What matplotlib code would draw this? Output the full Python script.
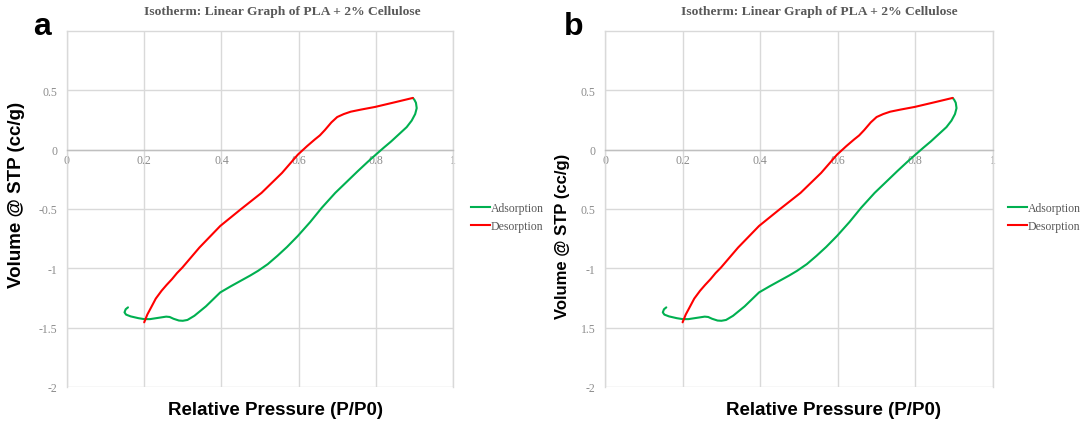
import matplotlib
matplotlib.use("Agg")
import matplotlib.pyplot as plt
from matplotlib.lines import Line2D
from matplotlib.transforms import Bbox, TransformedBbox

# Isotherm data (relative pressure P/P0, volume @ STP in cc/g)
ads_p = [0.158, 0.152, 0.149, 0.153, 0.165, 0.185, 0.200, 0.215, 0.235, 0.257, 0.266,
         0.276, 0.290, 0.300, 0.312, 0.330, 0.360, 0.397, 0.425, 0.450, 0.475, 0.495,
         0.520, 0.545, 0.570, 0.598, 0.630, 0.660, 0.695, 0.725, 0.753, 0.780, 0.800,
         0.820, 0.840, 0.860, 0.880, 0.893, 0.902, 0.906, 0.904, 0.900, 0.896]
ads_v = [-1.329, -1.345, -1.371, -1.390, -1.405, -1.420, -1.428, -1.428, -1.418, -1.407, -1.410,
         -1.425, -1.440, -1.442, -1.435, -1.400, -1.320, -1.203, -1.150, -1.105, -1.060, -1.021,
         -0.965, -0.895, -0.820, -0.727, -0.610, -0.490, -0.364, -0.270, -0.182, -0.100, -0.042,
         0.015, 0.070, 0.130, 0.190, 0.245, 0.300, 0.350, 0.395, 0.420, 0.436]

des_p = [0.896, 0.850, 0.798, 0.762, 0.735, 0.717, 0.700, 0.685, 0.668, 0.655, 0.642,
         0.622, 0.598, 0.557, 0.504, 0.450, 0.397, 0.343, 0.299, 0.285, 0.272, 0.258,
         0.245, 0.230, 0.218, 0.208, 0.200]
des_v = [0.436, 0.400, 0.360, 0.338, 0.320, 0.300, 0.275, 0.230, 0.165, 0.120, 0.086,
         0.030, -0.042, -0.196, -0.364, -0.503, -0.643, -0.825, -0.993, -1.040, -1.091, -1.140,
         -1.189, -1.255, -1.329, -1.390, -1.455]

x_ticks = [0, 0.2, 0.4, 0.6, 0.8, 1]
x_tick_labels = ["0", "0.2", "0.4", "0.6", "0.8", "1"]
y_ticks = [-2, -1.5, -1, -0.5, 0, 0.5]
y_tick_labels_a = ["-2", "-1.5", "-1", "-0.5", "0", "0.5"]
y_tick_labels_b = ["-2", "1.5", "-1", "0.5", "0", "0.5"]

series_labels = ["Adsorption", "Desorption"]
title = "Isotherm: Linear Graph of PLA + 2% Cellulose"
x_label = "Relative Pressure (P/P0)"
y_label = "Volume @ STP (cc/g)"

W, H = 1081, 427
fig = plt.figure(figsize=(W / 100, H / 100), dpi=100)
fig.patch.set_facecolor("white")

GREEN = "#00B050"
RED = "#FF0000"
GRID = "#D9D9D9"
TICK_COL = "#8C8C8C"
SERIF = "Liberation Serif"
SANS = "Liberation Sans"


def px(x, y):
    """Pixel position (from top-left) to figure fraction."""
    return x / W, 1 - y / H


def panel(left, right, ylabels, letter, letter_x, title_x, xlab_x, ylab_x, ylab_y,
          ylab_size, legend_x, clip_right):
    top, bottom = 32, 388
    ax = fig.add_axes([left / W, (H - bottom) / H, (right - left) / W, (bottom - top) / H])
    ax.set_xlim(0, 1)
    ax.set_ylim(-2, 1)
    ax.set_xticks(x_ticks)
    ax.set_xticklabels(x_tick_labels)
    ax.set_yticks(y_ticks)
    ax.set_yticklabels(ylabels)
    ax.grid(True, color=GRID, linewidth=1.0)
    ax.set_axisbelow(True)
    for side in ["top", "left", "right"]:
        ax.spines[side].set_color(GRID)
        ax.spines[side].set_linewidth(1.0)
    ax.spines["bottom"].set_position(("data", 0))
    ax.spines["bottom"].set_color("#BFBFBF")
    ax.spines["bottom"].set_linewidth(1.0)
    ax.tick_params(axis="both", length=0, colors=TICK_COL, labelsize=8.5)
    ax.tick_params(axis="x", pad=3)
    ax.tick_params(axis="y", pad=7)
    for lab in ax.get_xticklabels() + ax.get_yticklabels():
        lab.set_fontfamily(SERIF)

    ax.plot(ads_p, ads_v, color=GREEN, linewidth=1.5, solid_capstyle="round",
            solid_joinstyle="round", zorder=3)
    ax.plot(des_p, des_v, color=RED, linewidth=1.5, solid_capstyle="round",
            solid_joinstyle="round", zorder=4)

    fig.text(*px(title_x, 12), title, ha="center", va="center", fontsize=9.7,
             fontweight="bold", family=SERIF, color="#595959")
    fig.text(*px(letter_x, 27), letter, ha="center", va="center", fontsize=23,
             fontweight="bold", family=SANS, color="black")
    fig.text(*px(xlab_x, 411), x_label, ha="center", va="center",
             fontsize=13.5, fontweight="bold", family=SANS, color="black")
    fig.text(*px(ylab_x, ylab_y), y_label, ha="center", va="center", rotation=90,
             fontsize=ylab_size, fontweight="bold", family=SANS, color="black")

    handles = [Line2D([], [], color=GREEN, linewidth=1.5),
               Line2D([], [], color=RED, linewidth=1.5)]
    leg = fig.legend(handles, series_labels, loc="center left",
                     bbox_to_anchor=px(legend_x, 218), frameon=False,
                     prop={"family": SERIF, "size": 8.5}, handlelength=1.6,
                     handletextpad=0.05, borderpad=0, borderaxespad=0,
                     labelspacing=0.45)
    for t in leg.get_texts():
        t.set_color("#595959")
        if clip_right is not None:
            t.set_clip_box(TransformedBbox(Bbox.from_extents(0, 0, clip_right / W, 1),
                                           fig.transFigure))
            t.set_clip_on(True)
    return ax


panel(67, 453, y_tick_labels_a, "a", 42, 282, 275, 17, 195, 13.5, 471, 543)
panel(605, 993, y_tick_labels_b, "b", 574, 819, 833, 562, 236, 12, 1008, None)

fig.savefig("out.png", dpi=100, facecolor="white")
